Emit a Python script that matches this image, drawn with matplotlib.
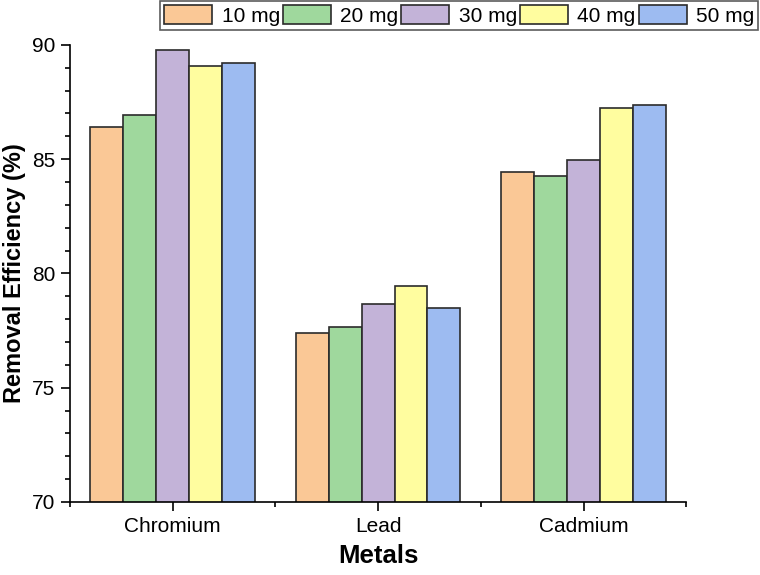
import numpy as np
import matplotlib.pyplot as plt
from matplotlib.ticker import MultipleLocator

plt.rcParams['font.family'] = ['Liberation Sans', 'DejaVu Sans']

metals = ['Chromium', 'Lead', 'Cadmium']
doses = ['10 mg', '20 mg', '30 mg', '40 mg', '50 mg']
eff_10 = [86.4, 77.4, 84.45]
eff_20 = [86.95, 77.67, 84.25]
eff_30 = [89.78, 78.67, 84.95]
eff_40 = [89.08, 79.45, 87.23]
eff_50 = [89.2, 78.48, 87.36]
series = [eff_10, eff_20, eff_30, eff_40, eff_50]
colors = ['#FAC896', '#9FD89D', '#C3B3D8', '#FFFD9F', '#9DBBF1']

fig = plt.figure(figsize=(7.6, 5.75), dpi=100)
ax = fig.add_axes([0.092, 0.127, 0.811, 0.795])

x = np.arange(1, len(metals) + 1)
w = 0.16
for i, (vals, c, lab) in enumerate(zip(series, colors, doses)):
    ax.bar(x + (i - 2) * w, vals, w, bottom=0, color=c, edgecolor='#2b2b2b',
           linewidth=1.2, label=lab, zorder=2)

ax.set_xlim(0.5, 3.5)
ax.set_ylim(70, 90)
ax.set_xticks(x)
ax.set_xticklabels(metals)
ax.set_xticks([0.5, 1.5, 2.5, 3.5], minor=True)
ax.yaxis.set_major_locator(MultipleLocator(5))
ax.yaxis.set_minor_locator(MultipleLocator(1))
ax.tick_params(axis='both', which='major', direction='out', length=6.5, width=1.2,
               labelsize=15, colors='black', pad=4)
ax.tick_params(axis='both', which='minor', direction='out', length=3.5, width=1.2)
for s in ['top', 'right']:
    ax.spines[s].set_visible(False)
for s in ['left', 'bottom']:
    ax.spines[s].set_linewidth(1.2)

ax.set_xlabel('Metals', fontsize=18.5, fontweight='bold', labelpad=6)
ax.set_ylabel('Removal Efficiency (%)', fontsize=17, fontweight='bold', labelpad=4)

leg = fig.legend(loc='upper right', bbox_to_anchor=(0.998, 0.998), ncol=5,
                 fontsize=15, frameon=True, fancybox=False, edgecolor='#333333',
                 handlelength=2.3, handleheight=1.0, handletextpad=0.45,
                 columnspacing=0.15, borderpad=0.2, borderaxespad=0)
leg.get_frame().set_linewidth(1.2)

fig.savefig('out.png', dpi=100)
